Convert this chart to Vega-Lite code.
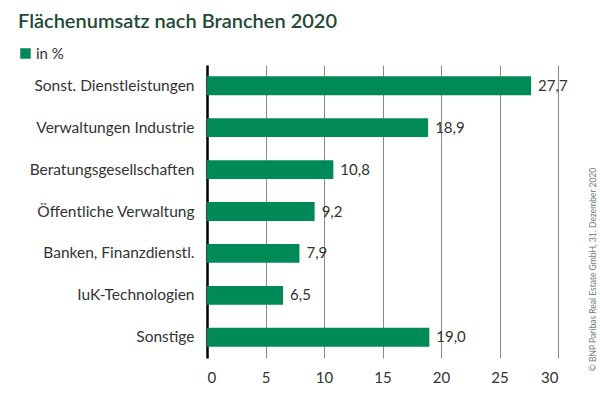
{
  "$schema": "https://vega.github.io/schema/vega-lite/v6.json",
  "width": 351,
  "height": 293,
  "autosize": {"type": "none"},
  "padding": {"left": 207, "top": 65, "right": 42, "bottom": 39},
  "background": "white",
  "config": {
    "font": "Lato",
    "view": {"stroke": null},
    "locale": {"number": {"decimal": ",", "thousands": ".", "grouping": [3], "currency": ["", " €"]}}
  },
  "title": {
    "text": "Flächenumsatz nach Branchen 2020",
    "anchor": "start",
    "frame": "group",
    "dx": -189,
    "offset": 14,
    "fontSize": 20,
    "fontWeight": 600,
    "color": "#1e4a36"
  },
  "data": {
    "values": [
      {"branche": "Sonst. Dienstleistungen", "wert": 27.7, "serie": "in %"},
      {"branche": "Verwaltungen Industrie", "wert": 18.9, "serie": "in %"},
      {"branche": "Beratungsgesellschaften", "wert": 10.8, "serie": "in %"},
      {"branche": "Öffentliche Verwaltung", "wert": 9.2, "serie": "in %"},
      {"branche": "Banken, Finanzdienstl.", "wert": 7.9, "serie": "in %"},
      {"branche": "IuK-Technologien", "wert": 6.5, "serie": "in %"},
      {"branche": "Sonstige", "wert": 19.0, "serie": "in %"}
    ]
  },
  "encoding": {
    "y": {"field": "branche", "type": "nominal", "sort": null,
      "scale": {"paddingInner": 0.55, "paddingOuter": 0.27}}
  },
  "layer": [
    {
      "mark": {"type": "bar", "color": "#008a58"},
      "encoding": {
        "x": {"field": "wert", "type": "quantitative",
          "scale": {"domain": [0, 30], "nice": false},
          "axis": {"values": [0, 5, 10, 15, 20, 25, 30], "title": null, "domain": false, "ticks": false,
            "grid": true, "gridColor": "#8a8a8a", "gridWidth": 1,
            "labelFontSize": 15, "labelColor": "#333333", "labelPadding": 12}},
        "y": {"field": "branche", "type": "nominal", "sort": null,
          "axis": {"title": null, "ticks": false, "domain": true, "domainColor": "#000000", "domainWidth": 2.5,
            "labelFontSize": 15.5, "labelColor": "#333333", "labelPadding": 13, "labelLimit": 220}},
        "color": {"field": "serie", "type": "nominal",
          "scale": {"range": ["#008a58"]},
          "legend": {"title": null, "orient": "none", "legendX": -189, "legendY": -19,
            "symbolType": "square", "symbolSize": 110, "labelFontSize": 15, "labelColor": "#333333", "labelOffset": 3}}
      }
    },
    {
      "mark": {"type": "text", "align": "left", "dx": 7, "fontSize": 15, "color": "#333333"},
      "encoding": {
        "x": {"field": "wert", "type": "quantitative"},
        "y": {"field": "branche", "type": "nominal", "sort": null,
          "axis": {"orient": "right", "labels": false, "ticks": false, "domain": false,
            "title": "© BNP Paribas Real Estate GmbH, 31. Dezember 2020",
            "titleAngle": 270, "titleFontSize": 8.5, "titleFontWeight": "normal", "titleColor": "#777777",
            "titleX": 34, "titleY": 204, "titleAlign": "center", "titleBaseline": "middle"}},
        "text": {"field": "wert", "type": "quantitative", "format": ".1f"}
      }
    }
  ],
  "resolve": {"axis": {"y": "independent"}}
}
